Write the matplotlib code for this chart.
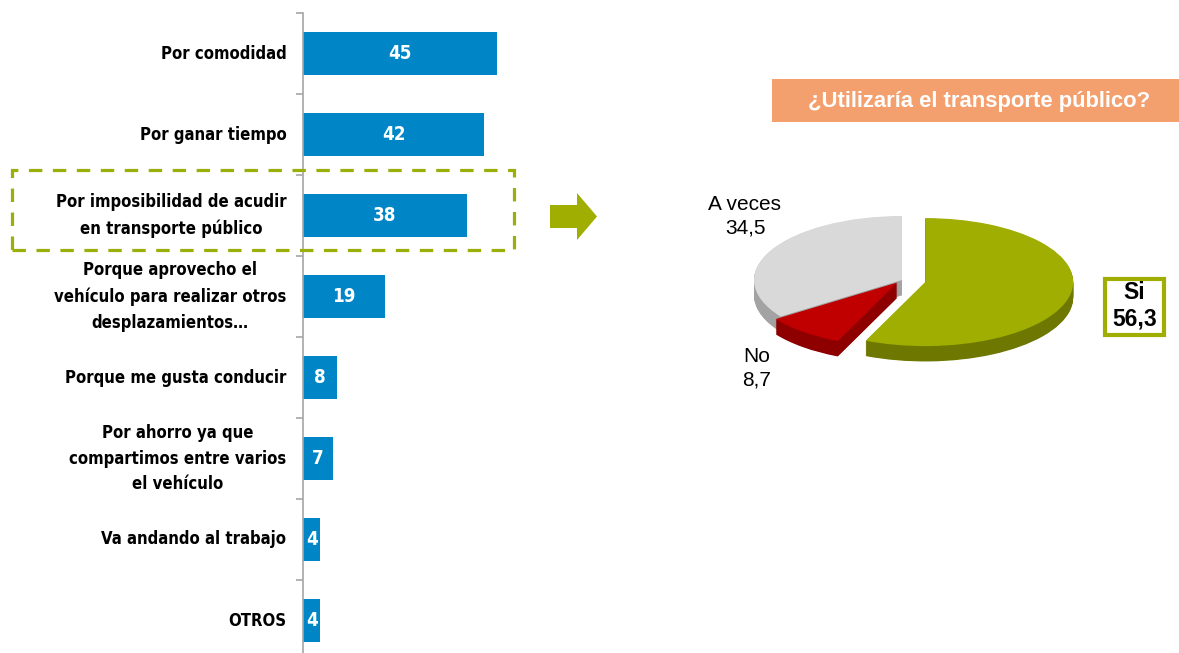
import matplotlib
matplotlib.use("Agg")
import matplotlib.pyplot as plt
import matplotlib.patches as mpatches
import numpy as np

# ---------------- data ----------------
reasons = [
    "Por comodidad",
    "Por ganar tiempo",
    "Por imposibilidad de acudir\nen transporte público",
    "Porque aprovecho el\nvehículo para realizar otros\ndesplazamientos…",
    "Porque me gusta conducir",
    "Por ahorro ya que\ncompartimos entre varios\nel vehículo",
    "Va andando al trabajo",
    "OTROS",
]
reason_values = [45, 42, 38, 19, 8, 7, 4, 4]

pie_title = "¿Utilizaría el transporte público?"
pie_labels = ["Si", "No", "A veces"]
pie_values = [56.3, 8.7, 34.5]
pie_value_text = ["56,3", "8,7", "34,5"]

# ---------------- style ----------------
W, H = 1179, 653
DPI = 100
NARROW = ["DejaVu Sans"]
ARIAL = ["Liberation Sans", "DejaVu Sans"]
BLUE = "#0086C6"
GREEN = "#9FAE00"
GREEN_DASH = "#9BAE0A"
SALMON = "#F4A06E"

fig = plt.figure(figsize=(W / DPI, H / DPI), dpi=DPI)
fig.patch.set_facecolor("white")


def fx(x):
    return x / W


def fy(y):
    return 1 - y / H


# ---------------- bar chart ----------------
ax_left, ax_right = 303, 561
ax_top, ax_bottom = 13, 661
ax = fig.add_axes([fx(ax_left), fy(ax_bottom), fx(ax_right - ax_left), (ax_bottom - ax_top) / H])
pos = np.arange(len(reasons))
ax.barh(pos, reason_values, height=0.52, color=BLUE, zorder=2)
ax.set_xlim(0, (ax_right - ax_left) / 4.31)
ax.set_ylim(len(reasons) - 0.5, -0.5)
for s in ["top", "right", "bottom"]:
    ax.spines[s].set_visible(False)
ax.spines["left"].set_color("#A6A6A6")
ax.spines["left"].set_linewidth(1.2)
ax.set_xticks([])
ax.set_yticks(pos)
ax.set_yticklabels(reasons, fontfamily=NARROW, fontstretch="condensed", fontweight="bold",
                   fontsize=12, color="black")
ax.tick_params(axis="y", which="major", length=0, pad=12)
for t in ax.get_yticklabels():
    t.set_multialignment("center")
    t.set_linespacing(1.57)
    t.set_verticalalignment("center")
ax.set_yticks(np.arange(-0.5, len(reasons) + 0.5, 1.0), minor=True)
ax.tick_params(axis="y", which="minor", length=5, width=1.2, color="#A6A6A6", direction="out")
for p, v in zip(pos, reason_values):
    ax.text(v / 2, p, str(v), ha="center", va="center", color="white",
            fontfamily=NARROW, fontstretch="condensed", fontweight="bold", fontsize=13.5, zorder=3)

# dashed highlight box
box = mpatches.Rectangle((fx(12), fy(250)), fx(514 - 12), (250 - 170) / H,
                         transform=fig.transFigure, fill=False, edgecolor=GREEN_DASH,
                         linewidth=2.3, linestyle=(0, (4.2, 3.3)), zorder=5)
fig.patches.append(box)

# arrow
arrow_pts = [(550, 205), (577, 205), (577, 193), (597, 216.5), (577, 240), (577, 228), (550, 228)]
arrow = mpatches.Polygon([(fx(x), fy(y)) for x, y in arrow_pts], closed=True,
                         transform=fig.transFigure, facecolor=GREEN, edgecolor="none")
fig.patches.append(arrow)

# title box
tb = mpatches.Rectangle((fx(772), fy(122)), fx(1179 - 772), (122 - 79) / H,
                        transform=fig.transFigure, facecolor=SALMON, edgecolor="none")
fig.patches.append(tb)
fig.text(fx(979), fy(101), pie_title, ha="center", va="center", color="white",
         fontfamily=ARIAL, fontweight="bold", fontsize=15.8)

# ---------------- 3D-like pie ----------------
cx, cy = 902, 280
rx, ry = 148, 64
xl = (-1.5, 1.5)
yl = (-1.6, 1.3)
pax = fig.add_axes([fx(cx + xl[0] * rx), fy(cy - yl[0] * ry),
                    (xl[1] - xl[0]) * rx / W, (yl[1] - yl[0]) * ry / H])
top_colors = [GREEN, "#C00000", "#D9D9D9"]
side_colors = ["#6E7800", "#8E0000", "#A3A3A3"]
explode = [0.16, 0.05, 0.0]
depth = 0.24
for d in np.linspace(depth, 0.01, 25):
    pax.pie(pie_values, colors=side_colors, startangle=90, counterclock=False,
            explode=explode, center=(0, -d), radius=1.0,
            wedgeprops=dict(linewidth=0, antialiased=True))
pax.pie(pie_values, colors=top_colors, startangle=90, counterclock=False,
        explode=explode, center=(0, 0), radius=1.0,
        wedgeprops=dict(linewidth=0, antialiased=True))
pax.set_aspect("auto")
pax.set_xlim(*xl)
pax.set_ylim(*yl)
pax.axis("off")

# pie labels
fig.text(fx(745), fy(216), f"{pie_labels[2]}\n{pie_value_text[2]}", ha="center", va="center",
         fontfamily=ARIAL, fontsize=15, color="black", linespacing=1.3)
fig.text(fx(757), fy(368), f"{pie_labels[1]}\n{pie_value_text[1]}", ha="center", va="center",
         fontfamily=ARIAL, fontsize=15, color="black", linespacing=1.3)
sb = mpatches.Rectangle((fx(1105), fy(335)), fx(1164 - 1105), (335 - 279) / H,
                        transform=fig.transFigure, facecolor="white", edgecolor=GREEN, linewidth=3)
fig.patches.append(sb)
fig.text(fx(1134.5), fy(306), f"{pie_labels[0]}\n{pie_value_text[0]}", ha="center", va="center",
         fontfamily=ARIAL, fontweight="bold", fontsize=16.5, color="black", linespacing=1.2)

fig.savefig("out.png", dpi=DPI, facecolor="white")
